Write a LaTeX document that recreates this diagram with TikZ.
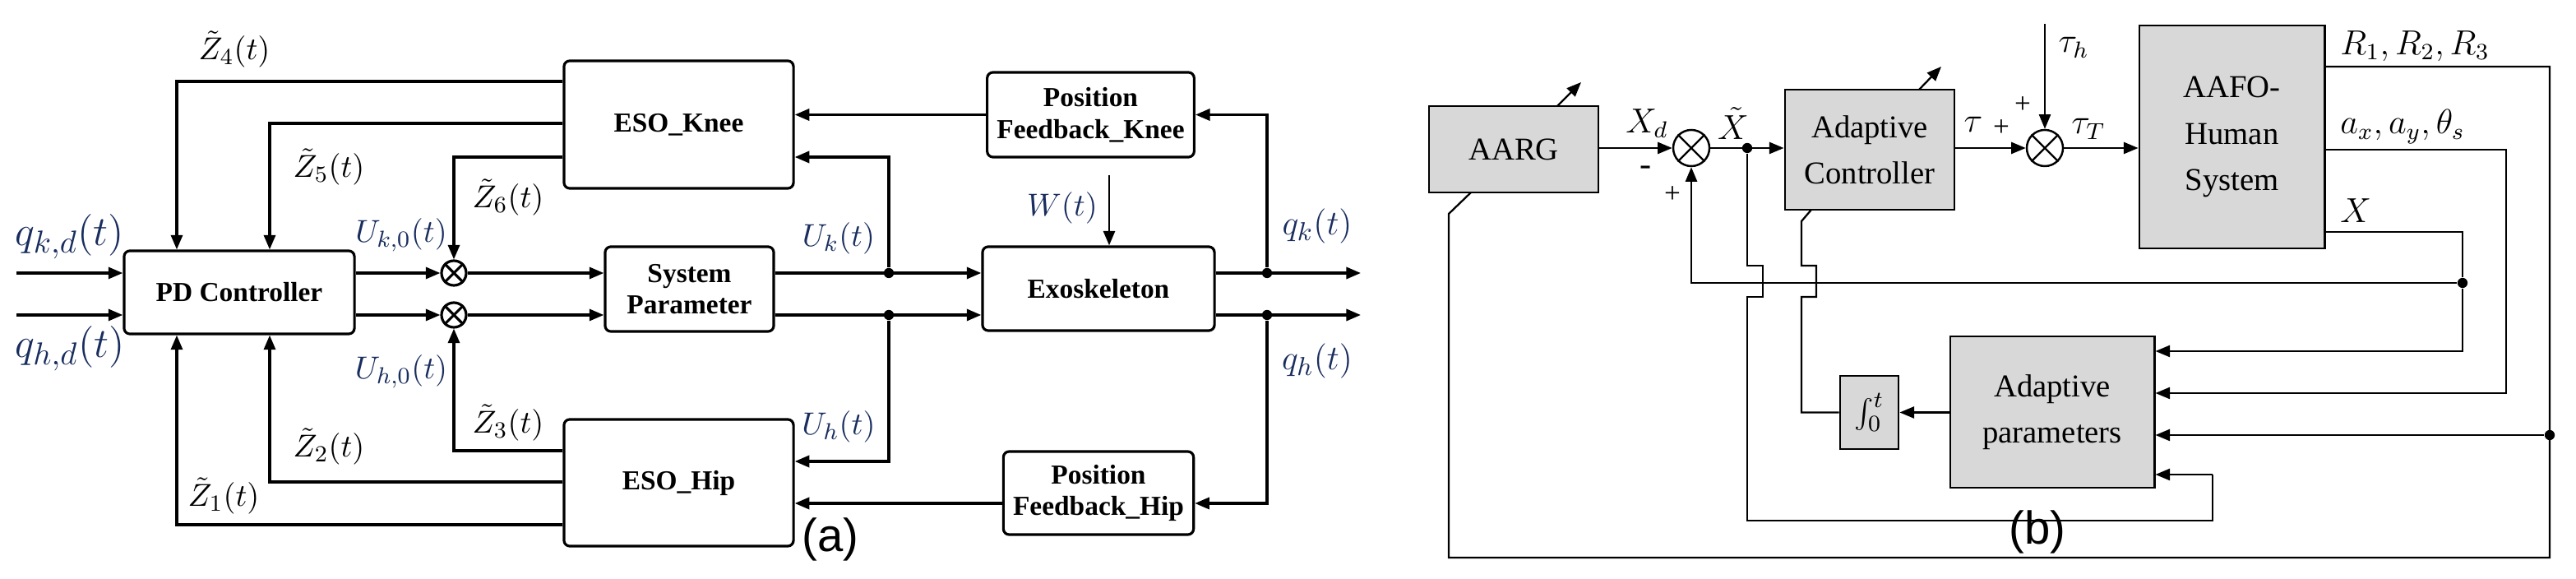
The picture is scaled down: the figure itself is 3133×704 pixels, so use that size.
\documentclass[tikz,border=0pt]{standalone}
\usepackage{fontspec}
\setmainfont{Liberation Serif}
\newfontfamily\sansf{Liberation Sans}
\usetikzlibrary{arrows.meta}
\definecolor{navy}{RGB}{25,45,95}
\definecolor{boxg}{RGB}{216,216,216}
\begin{document}
\begin{tikzpicture}[x=0.01cm,y=-0.01cm,
  la/.style={line width=0.9pt,-{Triangle[length=5pt,width=4pt]}},
  lna/.style={line width=0.9pt},
  lb/.style={line width=0.65pt,-{Triangle[length=5pt,width=4pt]}},
  lnb/.style={line width=0.65pt},
  boxa/.style={draw,line width=0.9pt,rounded corners=2pt,align=center,font=\fontsize{9.5}{11}\selectfont\bfseries},
  boxb/.style={draw,line width=0.8pt,fill=boxg,align=center,font=\fontsize{11}{16}\selectfont},
  suma/.style={circle,draw,line width=0.9pt,minimum size=0.30cm,inner sep=0pt},
  sumb/.style={circle,draw,line width=0.7pt,minimum size=0.44cm,inner sep=0pt},
  dot/.style={circle,fill,inner sep=0pt,minimum size=3.5pt},
  mla/.style={font=\fontsize{11}{13}\selectfont},
  mlq/.style={font=\fontsize{15}{17}\selectfont,text=navy},
  mlb/.style={font=\fontsize{12}{14}\selectfont},
  tag/.style={font=\sansf\fontsize{16}{18}\selectfont}]
\useasboundingbox (0,0) rectangle (3133,704);
% ---------------- panel (a)
\node[boxa,minimum width=2.80cm,minimum height=1.01cm] (pd) at (291,355.5) {PD Controller};
\node[boxa,minimum width=2.79cm,minimum height=1.55cm] (esok) at (825.5,151.5) {ESO\_Knee};
\node[boxa,minimum width=2.79cm,minimum height=1.54cm] (esoh) at (825.5,587) {ESO\_Hip};
\node[boxa,minimum width=2.05cm,minimum height=1.03cm] (sp) at (838.5,351.5) {System\\Parameter};
\node[boxa,minimum width=2.82cm,minimum height=1.02cm] (exo) at (1336,351) {Exoskeleton};
\node[boxa,minimum width=2.47cm,minimum height=1.03cm] (pfk) at (1326.5,139.5) {Position\\Feedback\_Knee};
\node[boxa,minimum width=2.28cm,minimum height=1.01cm] (pfh) at (1336,599.5) {Position\\Feedback\_Hip};
\node[suma] (s1) at (552,332) {};
\node[suma] (s2) at (552,383) {};
\foreach \s in {s1,s2}{\draw[lna] (\s.north west)--(\s.south east) (\s.north east)--(\s.south west);}
\coordinate (qki) at (20,332); \coordinate (qhi) at (20,383);
\draw[la] (qki) -- (pd.west|-qki);
\draw[la] (qhi) -- (pd.west|-qhi);
\draw[la] (pd.east|-s1) -- (s1.west);
\draw[la] (pd.east|-s2) -- (s2.west);
\draw[la] (s1.east) -- (sp.west|-s1);
\draw[la] (s2.east) -- (sp.west|-s2);
\node[dot] (ju) at (1081,332) {};
\node[dot] (jh) at (1081,383) {};
\draw[la] (sp.east|-ju) -- (exo.west|-ju);
\draw[la] (sp.east|-jh) -- (exo.west|-jh);
\node[dot] (oqk) at (1541,332) {};
\node[dot] (oqh) at (1541,383) {};
\coordinate (ek) at (1655,332); \coordinate (eh) at (1655,383);
\draw[la] (exo.east|-oqk) -- (ek);
\draw[la] (exo.east|-oqh) -- (eh);
\draw[la] (oqk) |- (pfk.east);
\draw[la] (pfk.west) -- (esok.east|-pfk.west);
\draw[la] (ju) |- (esok.east|-0,191);
\draw[la] (oqh) |- (pfh.east|-0,612);
\draw[la] (pfh.west|-0,612) -- (esoh.east|-0,612);
\draw[la] (jh) |- (esoh.east|-0,561);
\draw[la] (esok.west|-0,99) -| (pd.north-|215,0);
\draw[la] (esok.west|-0,150) -| (pd.north-|328,0);
\draw[la] (esok.west|-0,191) -| (s1.north);
\draw[la] (esoh.west|-0,548) -| (s2.south);
\draw[la] (esoh.west|-0,586) -| (pd.south-|328,0);
\draw[la] (esoh.west|-0,638) -| (pd.south-|215,0);
\coordinate (wt) at (1349,213);
\draw[line width=0.8pt,-{Triangle[length=5pt,width=4pt]}] (wt) -- (exo.north-|wt);
\node[mlq] at (85,288) {$q_{k,d}(t)$};
\node[mlq] at (85,424) {$q_{h,d}(t)$};
\node[mla] at (285,60) {$\tilde Z_4(t)$};
\node[mla] at (400,203) {$\tilde Z_5(t)$};
\node[mla] at (618,240) {$\tilde Z_6(t)$};
\node[mla,text=navy] at (488,286) {$U_{k,0}(t)$};
\node[mla,text=navy] at (488,452) {$U_{h,0}(t)$};
\node[mla] at (618,514) {$\tilde Z_3(t)$};
\node[mla] at (400,543) {$\tilde Z_2(t)$};
\node[mla] at (272,603) {$\tilde Z_1(t)$};
\node[mla,text=navy] at (1020,290) {$U_k(t)$};
\node[mla,text=navy] at (1020,519) {$U_h(t)$};
\node[mla,text=navy] at (1292,253) {$W(t)$};
\node[mla,text=navy,font=\fontsize{13}{15}\selectfont] at (1602,275) {$q_k(t)$};
\node[mla,text=navy,font=\fontsize{13}{15}\selectfont] at (1602,439) {$q_h(t)$};
\node[tag] at (1010,656) {(a)};
% ---------------- panel (b)
\node[boxb,minimum width=2.06cm,minimum height=1.05cm] (aarg) at (1841,181.5) {AARG};
\node[boxb,minimum width=2.06cm,minimum height=1.46cm] (ac) at (2274,182) {Adaptive\\Controller};
\node[boxb,minimum width=2.25cm,minimum height=2.71cm] (aafo) at (2714.5,166.5) {AAFO-\\Human\\System};
\node[boxb,minimum width=2.48cm,minimum height=1.84cm] (ap) at (2496,501) {Adaptive\\parameters};
\node[boxb,minimum width=0.71cm,minimum height=0.89cm,inner sep=0pt] (int) at (2273.5,501.5) {$\int_0^t$};
\node[sumb] (s3) at (2057,180) {};
\node[sumb] (s4) at (2487,180) {};
\foreach \s in {s3,s4}{\draw[lnb] (\s.north west)--(\s.south east) (\s.north east)--(\s.south west);}
\draw[lb] (aarg.east|-s3) -- (s3.west);
\node[dot] (xj) at (2125,180) {};
\draw[lb] (s3.east) -- (ac.west|-s3);
\draw[lb] (ac.east|-s4) -- (s4.west);
\draw[lb] (s4.east) -- (aafo.west|-s4);
\coordinate (th) at (2487,29);
\draw[lb] (th) -- (s4.north);
\coordinate (a1) at (1894,129); \coordinate (a2) at (1923,100);
\draw[lb] (a1) -- (a2);
\coordinate (a3) at (2334,109); \coordinate (a4) at (2361,81);
\draw[lb] (a3) -- (a4);
% AARG feedback loop
\node[dot] (rj) at (3101,529) {};
\draw[lnb] (1789,234) -- (1762,260) -- (1762,678) -- (3101,678) -- (3101,81) -- (aafo.east|-0,81);
\draw[lb] (rj) -- (ap.east|-rj);
% AC to integrator
\draw[lnb] (2203,255) -- (2191,269) -- (2191,323) -- (2209,323) -- (2209,361) -- (2191,361) |- (int.west);
\draw[lb] (ap.west|-int) -- (int.east);
% X tilde path
\draw[lnb] (xj) -- (2125,323) -- (2144,323) -- (2144,361) -- (2125,361) -- (2125,633) -- (2691,633) -- (2691,577);
\draw[lb] (2691,577) -- (ap.east|-0,577);
% X feedback
\node[dot] (xd) at (2995,344) {};
\draw[lb] (xd) -| (s3.south);
\draw[lnb] (aafo.east|-0,282) -| (xd);
\draw[lb] (xd) |- (ap.east|-0,427);
\draw[lb] (aafo.east|-0,182) -| (3048,400) |- (ap.east|-0,478);
% labels
\node[mlb] at (2003,150) {$X_d$};
\node[mlb] at (2001,208) {-};
\node[mlb,font=\fontsize{10}{12}\selectfont] at (2034,237) {+};
\node[mlb] at (2108,150) {$\tilde X$};
\node[mlb] at (2400,151) {$\tau$};
\node[mlb,font=\fontsize{10}{12}\selectfont] at (2434,156) {+};
\node[mlb,font=\fontsize{10}{12}\selectfont] at (2460,128) {+};
\node[mlb] at (2540,157) {$\tau_T$};
\node[mlb] at (2522,58) {$\tau_h$};
\node[mlb,anchor=west] at (2834,56) {$R_1,R_2,R_3$};
\node[mlb,anchor=west] at (2834,154) {$a_x,a_y,\theta_s$};
\node[mlb,anchor=west] at (2834,256) {$X$};
\node[tag] at (2478,647) {(b)};
\end{tikzpicture}
\end{document}
